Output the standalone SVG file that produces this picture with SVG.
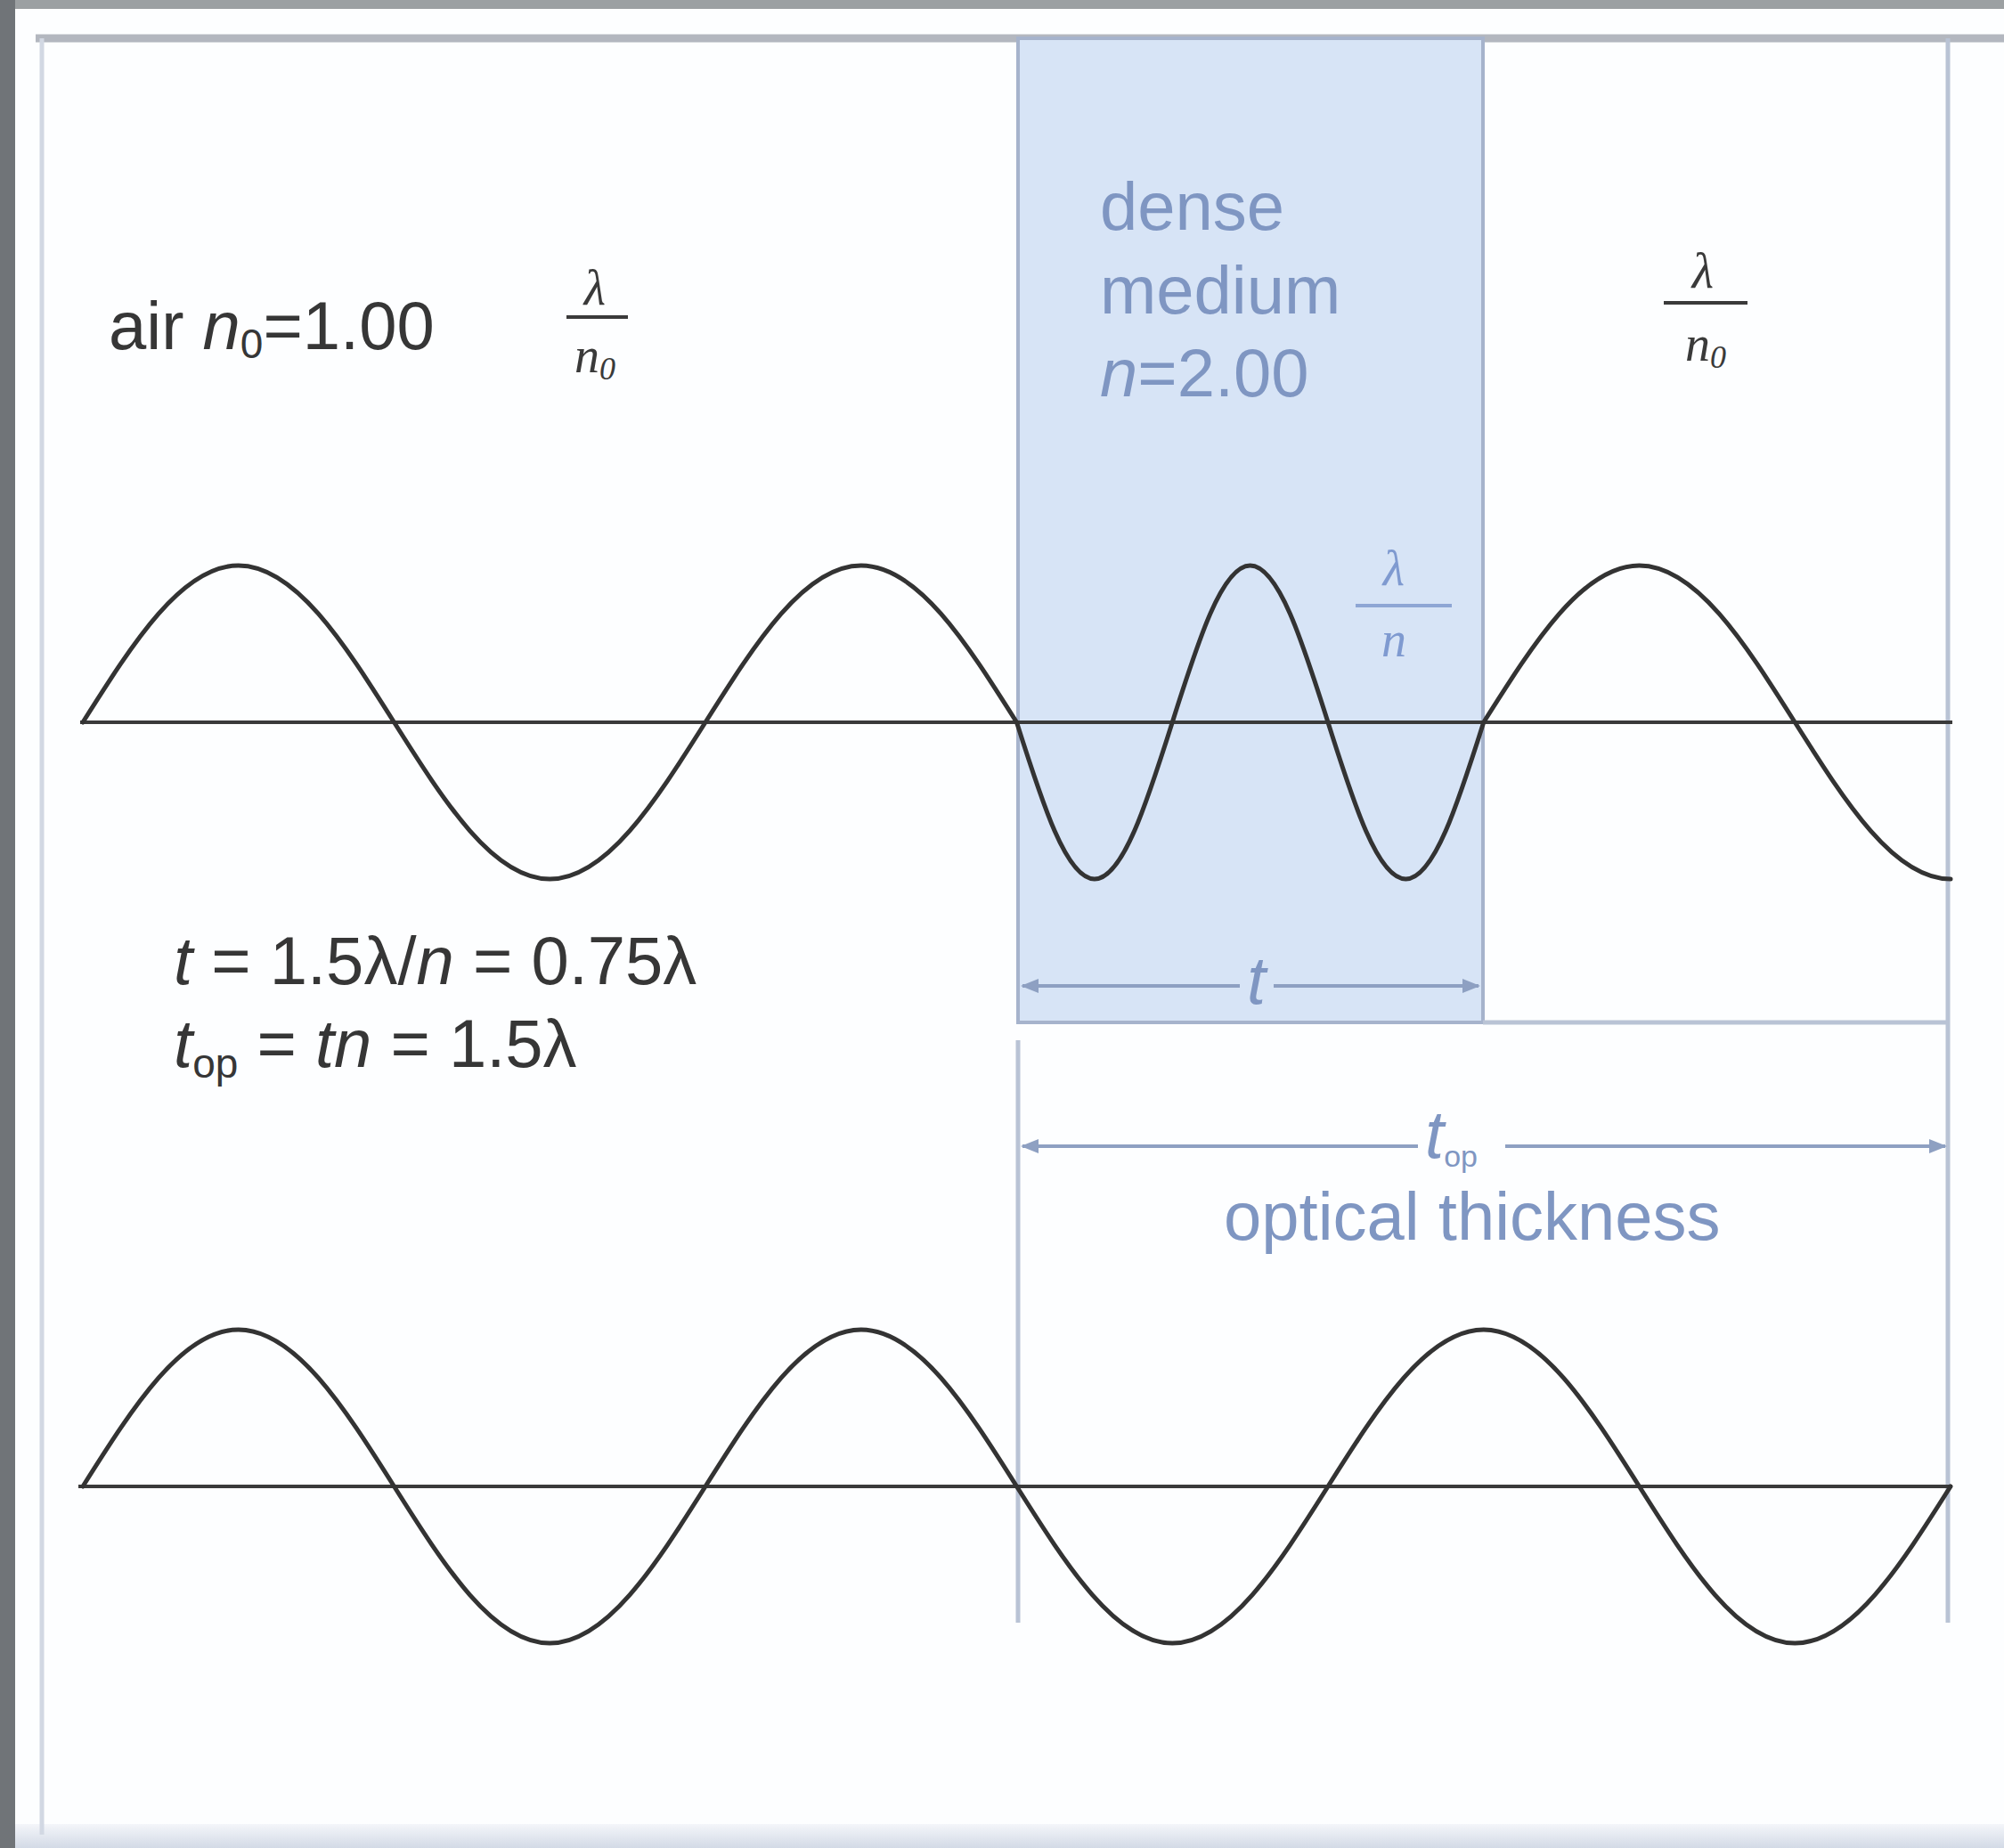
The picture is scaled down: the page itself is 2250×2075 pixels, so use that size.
<svg xmlns="http://www.w3.org/2000/svg" width="2250" height="2075" viewBox="0 0 2250 2075">
<style>
.lbl{font-family:"Liberation Sans",Arial,sans-serif;font-size:76px;fill:#363636}
.blue{fill:#7f96c2}
.frac{font-family:"Liberation Serif","Times New Roman",serif;font-size:56px;text-anchor:middle}
.wave{fill:none;stroke:#333;stroke-width:5;stroke-linejoin:round;stroke-linecap:round}
.axis{stroke:#3a3a3a;stroke-width:4}
.frame{stroke:#b9c3d5;stroke-width:5;fill:none}
.dim{stroke:#8ea0c2;stroke-width:4;fill:none}
</style>
<defs>
<marker id="ah" viewBox="0 0 10 10" refX="9" refY="5" markerWidth="5" markerHeight="5" orient="auto-start-reverse">
<path d="M0,1 L10,5 L0,9 Z" fill="#8ea0c2"/>
</marker>
<linearGradient id="bot" x1="0" y1="0" x2="0" y2="1">
<stop offset="0" stop-color="#f4f6fa"/>
<stop offset="1" stop-color="#d3dae6"/>
</linearGradient>
</defs>
<rect width="2250" height="2075" fill="#fdfeff"/>
<rect x="0" y="0" width="2250" height="10" fill="#9ca0a2"/>
<rect x="0" y="0" width="17" height="2075" fill="#707478"/>
<rect x="17" y="2048" width="2233" height="27" fill="url(#bot)"/>

<g id="frame">
<line x1="40" y1="43" x2="2250" y2="43" stroke="#b3b7bf" stroke-width="9"/>
<line x1="47" y1="43" x2="47" y2="2060" stroke="#d2d8e3" stroke-width="5"/>
</g>

<g id="dense-medium">
<rect x="1143" y="43" width="522" height="1105" fill="#d7e4f6" stroke="#a6b3cc" stroke-width="4"/>
<text class="lbl blue" x="1235" y="258" font-size="78">dense</text>
<text class="lbl blue" x="1235" y="352" font-size="78">medium</text>
<text class="lbl blue" x="1235" y="445" font-size="78"><tspan font-style="italic">n</tspan>=2.00</text>
</g>

<g id="right-region">
<line class="frame" x1="2187" y1="43" x2="2187" y2="1822"/>
<line class="frame" x1="1665" y1="1148" x2="2187" y2="1148"/>
<line class="frame" x1="1143" y1="1168" x2="1143" y2="1822"/>
</g>

<g id="air-label">
<text class="lbl" x="122" y="392">air <tspan font-style="italic">n</tspan><tspan font-size="46" dy="10">0</tspan><tspan dy="-10">=1.00</tspan></text>
</g>

<g id="frac-left">
<text class="frac" x="668" y="342" fill="#3a3a3a" font-style="italic">λ</text>
<line x1="636" y1="356" x2="705" y2="356" stroke="#3a3a3a" stroke-width="4"/>
<text class="frac" x="668" y="418" fill="#3a3a3a" font-style="italic">n<tspan font-size="36" dy="8">0</tspan></text>
</g>

<g id="frac-right">
<text class="frac" x="1912" y="323" fill="#3a3a3a" font-style="italic">λ</text>
<line x1="1868" y1="340" x2="1962" y2="340" stroke="#3a3a3a" stroke-width="4"/>
<text class="frac" x="1915" y="405" fill="#3a3a3a" font-style="italic">n<tspan font-size="36" dy="8">0</tspan></text>
</g>

<g id="frac-dense">
<text class="frac" x="1565" y="657" fill="#7f9ad0" font-style="italic">λ</text>
<line x1="1522" y1="680" x2="1630" y2="680" stroke="#8ea6d4" stroke-width="4"/>
<text class="frac" x="1565" y="737" fill="#7f9ad0" font-style="italic">n</text>
</g>

<g id="formulas">
<text class="lbl" x="195" y="1105" font-size="78"><tspan font-style="italic">t</tspan> = 1.5λ/<tspan font-style="italic">n</tspan> = 0.75λ</text>
<text class="lbl" x="195" y="1198" font-size="78"><tspan font-style="italic">t</tspan><tspan font-size="46" dy="12">op</tspan><tspan dy="-12"> = </tspan><tspan font-style="italic">tn</tspan> = 1.5λ</text>
</g>

<g id="wave-upper">
<line class="axis" x1="90" y1="811" x2="2192" y2="811"/>
<path class="wave" d="M93 811
c56.99,-90.16 111.51,-176 174.75,-176
c63.24,0 117.77,85.84 174.75,176
c56.99,90.16 111.51,176 174.75,176
c63.24,0 117.77,-85.84 174.75,-176
c56.99,-90.16 111.51,-176 174.75,-176
c63.24,0 117.77,85.84 174.75,176
c28.49,90.16 55.75,176 87.375,176
c31.62,0 58.88,-85.84 87.375,-176
c28.49,-90.16 55.75,-176 87.375,-176
c31.62,0 58.88,85.84 87.375,176
c28.49,90.16 55.75,176 87.375,176
c31.62,0 58.88,-85.84 87.375,-176
c56.99,-90.16 111.51,-176 174.75,-176
c63.24,0 117.77,85.84 174.75,176
c56.99,90.16 111.51,176 174.75,176"/>
</g>

<g id="wave-lower">
<line class="axis" x1="88" y1="1669" x2="2192" y2="1669"/>
<path class="wave" d="M93 1669
c56.99,-90.16 111.51,-176 174.75,-176
c63.24,0 117.77,85.84 174.75,176
c56.99,90.16 111.51,176 174.75,176
c63.24,0 117.77,-85.84 174.75,-176
c56.99,-90.16 111.51,-176 174.75,-176
c63.24,0 117.77,85.84 174.75,176
c56.99,90.16 111.51,176 174.75,176
c63.24,0 117.77,-85.84 174.75,-176
c56.99,-90.16 111.51,-176 174.75,-176
c63.24,0 117.77,85.84 174.75,176
c56.99,90.16 111.51,176 174.75,176
c63.24,0 117.77,-85.84 174.75,-176"/>
</g>

<g id="connectors">
<line class="dim" x1="1148" y1="1107" x2="1392" y2="1107" marker-start="url(#ah)"/>
<line class="dim" x1="1430" y1="1107" x2="1660" y2="1107" marker-end="url(#ah)"/>
<line class="dim" x1="1148" y1="1287" x2="1592" y2="1287" marker-start="url(#ah)"/>
<line class="dim" x1="1690" y1="1287" x2="2184" y2="1287" marker-end="url(#ah)"/>
</g>

<g id="dim-labels">
<text class="lbl blue" x="1400" y="1127" font-size="60" font-style="italic">t</text>
<text class="lbl blue" x="1600" y="1300" font-size="52" font-style="italic">t<tspan font-size="34" font-style="normal" dy="10">op</tspan></text>
<text class="lbl blue" x="1374" y="1392" font-size="80">optical thickness</text>
</g>
</svg>
